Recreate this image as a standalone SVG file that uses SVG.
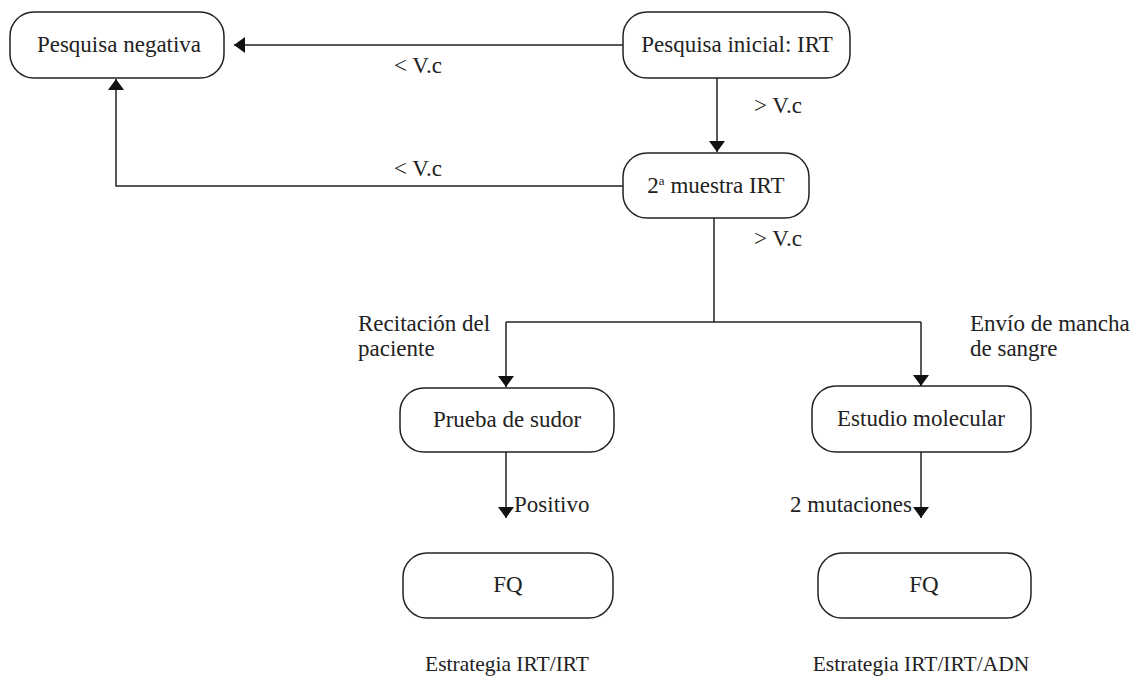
<svg xmlns="http://www.w3.org/2000/svg" width="1132" height="676" viewBox="0 0 1132 676">
<style>
.box{fill:#fff;stroke:#222;stroke-width:1.5}
.t{font-family:'Liberation Serif',serif;font-size:23px;fill:#222}
.c{text-anchor:middle}
.cap{font-size:21.5px}
.ln{fill:none;stroke:#222;stroke-width:1.5}
</style>
<defs>
<marker id="ah" markerWidth="14" markerHeight="16" refX="11" refY="8" orient="auto" markerUnits="userSpaceOnUse">
<path d="M0,0 L11,8 L0,16 Z" fill="#111"/>
</marker>
</defs>
<g id="connectors">
<path class="ln" d="M623,45 H234" marker-end="url(#ah)"/>
<path class="ln" d="M717,78 V152" marker-end="url(#ah)"/>
<path class="ln" d="M623,186 H116 V79" marker-end="url(#ah)"/>
<path class="ln" d="M714,218 V322"/>
<path class="ln" d="M506,322 H921"/>
<path class="ln" d="M506,322 V387" marker-end="url(#ah)"/>
<path class="ln" d="M921,322 V386" marker-end="url(#ah)"/>
<path class="ln" d="M506,452 V518" marker-end="url(#ah)"/>
<path class="ln" d="M921,452 V518" marker-end="url(#ah)"/>
<text class="t" x="394" y="73">&lt; V.c</text>
<text class="t" x="754" y="113">&gt; V.c</text>
<text class="t" x="394" y="176">&lt; V.c</text>
<text class="t" x="754" y="246">&gt; V.c</text>
<text class="t" x="358" y="331">Recitación del</text>
<text class="t" x="358" y="356">paciente</text>
<text class="t" x="970" y="331">Envío de mancha</text>
<text class="t" x="970" y="356">de sangre</text>
<text class="t" x="514" y="512">Positivo</text>
<text class="t" x="912" y="512" text-anchor="end">2 mutaciones</text>
</g>
<g id="n-negativa">
<rect class="box" x="10" y="12" width="214" height="66" rx="24"/>
<text class="t c" x="119" y="52">Pesquisa negativa</text>
</g>
<g id="n-inicial">
<rect class="box" x="623" y="12" width="227" height="66" rx="24"/>
<text class="t c" x="737" y="52">Pesquisa inicial: IRT</text>
</g>
<g id="n-muestra">
<rect class="box" x="623" y="153" width="186" height="65" rx="24"/>
<text class="t c" x="716" y="193">2<tspan font-size="13" dy="-8">a</tspan><tspan dy="8"> muestra IRT</tspan></text>
</g>
<g id="n-sudor">
<rect class="box" x="400" y="388" width="214" height="64" rx="24"/>
<text class="t c" x="507" y="427">Prueba de sudor</text>
</g>
<g id="n-molecular">
<rect class="box" x="812" y="386" width="219" height="66" rx="24"/>
<text class="t c" x="921" y="426">Estudio molecular</text>
</g>
<g id="n-fq1">
<rect class="box" x="403" y="553" width="210" height="65" rx="24"/>
<text class="t c" x="508" y="592">FQ</text>
</g>
<g id="n-fq2">
<rect class="box" x="818" y="553" width="213" height="65" rx="24"/>
<text class="t c" x="924" y="592">FQ</text>
</g>
<g id="captions">
<text class="t c cap" x="507" y="671">Estrategia IRT/IRT</text>
<text class="t c cap" x="921" y="671">Estrategia IRT/IRT/ADN</text>
</g>
</svg>
